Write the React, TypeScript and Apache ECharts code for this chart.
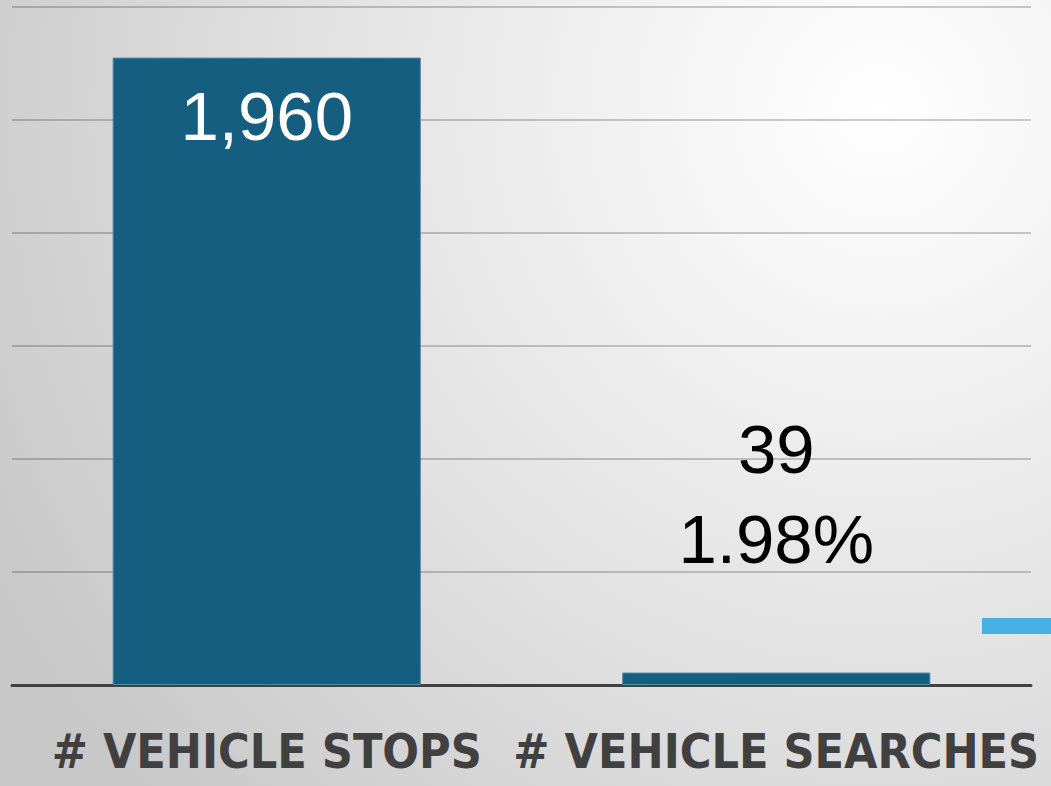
import React, { useEffect, useRef } from "react";
import * as echarts from "echarts";

const categories = ["# VEHICLE STOPS", "# VEHICLE SEARCHES"];
const values = [1960, 39];
const shareLabels = ["", "1.98%"];
const axisMax = 2118;
const axisInterval = 353;

export default function App() {
  const ref = useRef<HTMLDivElement>(null);
  useEffect(() => {
    document.body.style.margin = "0";
    const chart = echarts.init(ref.current!, null, { renderer: "svg" });
    chart.setOption({
      animation: false,
      backgroundColor: "transparent",
      grid: { left: 12, right: 20, top: 7, bottom: 101, containLabel: false },
      xAxis: {
        type: "category",
        data: categories,
        axisLine: { show: true, lineStyle: { color: "#404040", width: 3 } },
        axisTick: { show: false },
        axisLabel: {
          color: "#404040",
          fontFamily: "DejaVu Sans Condensed",
          fontWeight: "bold",
          fontSize: 48,
          margin: 42,
          interval: 0,
        },
      },
      yAxis: {
        type: "value",
        min: 0,
        max: axisMax,
        interval: axisInterval,
        axisLabel: { show: false },
        axisLine: { show: false },
        axisTick: { show: false },
        splitLine: { lineStyle: { color: "rgba(0,0,0,0.2)", width: 2 } },
      },
      series: [
        {
          type: "bar",
          barCategoryGap: "39.5%",
          data: values.map((v, i) => ({
            value: v,
            label:
              i === 0
                ? {
                    show: true,
                    position: "insideTop",
                    distance: 24,
                    color: "#ffffff",
                    fontFamily: "Liberation Sans",
                    fontSize: 69,
                    lineHeight: 69,
                    formatter: () => v.toLocaleString("en-US"),
                  }
                : {
                    show: true,
                    position: "top",
                    distance: 88,
                    color: "#000000",
                    fontFamily: "Liberation Sans",
                    fontSize: 69,
                    lineHeight: 90,
                    formatter: () => `${v.toLocaleString("en-US")}\n${shareLabels[i]}`,
                  },
          })),
          itemStyle: { color: "#165E80", borderColor: "#4f8cab", borderWidth: 1 },
        },
      ],
      graphic: [
        {
          type: "rect",
          shape: { x: 982, y: 618, width: 69, height: 16 },
          style: { fill: "#45B0E1" },
        },
      ],
    });
    return () => chart.dispose();
  }, []);
  return (
    <div
      style={{
        width: 1051,
        height: 786,
        background:
          "radial-gradient(circle at 880px 110px, #ffffff 0px, #f6f6f6 180px, #e0e0e0 600px, #c8c8c8 1000px)",
      }}
    >
      <div ref={ref} style={{ width: 1051, height: 786 }} />
    </div>
  );
}
